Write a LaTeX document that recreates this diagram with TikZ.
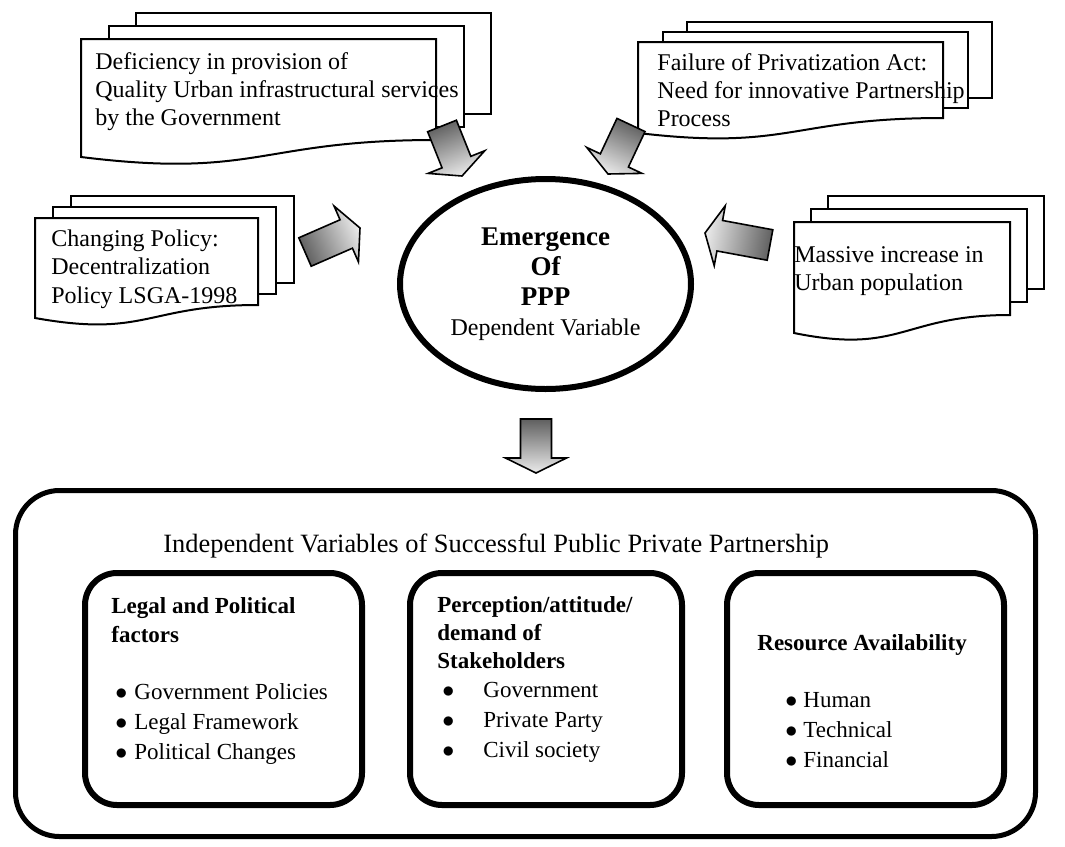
\documentclass[tikz,border=0pt]{standalone}
\usepackage{fontspec}
\setmainfont{Liberation Serif}
\usepackage{tikz}
\usetikzlibrary{calc,shapes,positioning}
\definecolor{arrdark}{RGB}{95,95,95}
\definecolor{arrlight}{RGB}{235,235,235}
\newcommand{\docStack}[8]{
    \foreach \sh in {2,1}
    {
        \draw[sheet] ({#1+\sh*#6},{#2-\sh*#7}) rectangle ({#3+\sh*#6},{#5-\sh*#7});
    }
    %% front sheet with wavy bottom
    \draw[sheet] (#1,#2) -- (#3,#2) -- (#3,#5)
        .. controls ({(#1+#3)/2},#5) and ({(#1+#3)/2},{#4+#8}) .. (#1,#4) -- cycle;
}
\newcommand{\blockArrow}[2]{
    \pgfmathanglebetweenpoints{\pgfpointanchor{#1}{center}}{\pgfpointanchor{#2}{center}}
    \pgfmathsetmacro{\arrAng}{\pgfmathresult-90}
    \coordinate (neck) at ($(#2)!7.5pt!(#1)$);
    \shade[blockarrow,shading angle=\arrAng]
        ($(#1)!7.75pt!90:(#2)$) -- ($(neck)!7.75pt!90:(#2)$)
        -- ($(neck)!15.25pt!90:(#2)$) -- (#2)
        -- ($(neck)!15.25pt!-90:(#2)$) -- ($(neck)!7.75pt!-90:(#2)$)
        -- ($(#1)!7.75pt!-90:(#2)$) -- cycle;
}
\newcommand{\bul}[1]{\makebox[#1][l]{$\bullet$}}
\newcommand{\bigb}[1]{{\fontsize{13.5pt}{15pt}\selectfont\bfseries #1}}

\begin{document}
\begin{tikzpicture}[x=0.5pt,y=-0.5pt]
    \tikzstyle{sheet}=[draw,fill=white,line width=1pt] %
    \tikzstyle{blockarrow}=[draw,line width=0.8pt,top color=arrlight,%
    bottom color=arrdark] %
    \tikzstyle{doctext}=[anchor=base west,align=left,inner sep=0pt,%
    font=\fontsize{12pt}{13.8pt}\selectfont] %
    \tikzstyle{ellnode}=[ellipse,draw,line width=3pt,minimum width=145.5pt,%
    minimum height=105pt,inner sep=0pt,align=center,%
    font=\fontsize{12pt}{15pt}\selectfont] %
    \tikzstyle{frame}=[rectangle,rounded corners=22pt,draw,line width=2.5pt] %
    \tikzstyle{factorbox}=[rectangle,rounded corners=16pt,draw,line width=3pt,%
    minimum width=138.5pt,minimum height=116pt] %
    \tikzstyle{boxhead}=[anchor=base west,align=left,inner sep=0pt,%
    font=\fontsize{11.5pt}{14.5pt}\selectfont\bfseries] %
    \tikzstyle{boxlist}=[anchor=base west,align=left,inner sep=0pt,%
    font=\fontsize{11.5pt}{15pt}\selectfont] %

    \useasboundingbox (0,0) rectangle (1065,846);

    %% Causes
    \docStack{81}{39}{436}{157}{140}{27.5}{13}{22}
    \docStack{638}{42}{943}{133}{118}{24.5}{10}{18}
    \docStack{35}{218}{258}{318}{305}{18}{11}{20}
    \docStack{794}{222}{1010}{333}{315}{17}{13}{22}

    %% (base anchor sits on the last line)
    \node[doctext] (DEF) at (95,125) {Deficiency in provision of\\%
      Quality Urban infrastructural services\\by the Government};
    \node[doctext] (FAIL) at (657,126) {Failure of Privatization Act:\\%
      Need for innovative Partnership\\Process};
    \node[doctext,font=\fontsize{12pt}{14.2pt}\selectfont] (POL) at (51,303)
      {Changing Policy:\\Decentralization\\Policy LSGA-1998};
    \node[doctext] (POP) at (794,290) {Massive increase in\\Urban population};

    %% Dependent variable
    \node[ellnode] (PPP) at (545.5,284) {\bigb{Emergence}\\\bigb{Of}\\%
      \bigb{PPP}\\Dependent Variable};

    \coordinate (DEFt) at (442,126);  \coordinate (DEFh) at (462,176);
    \coordinate (FAILt) at (631,125); \coordinate (FAILh) at (608,174);
    \coordinate (POLt) at (305,252);  \coordinate (POLh) at (360,228);
    \coordinate (POPt) at (770,245);  \coordinate (POPh) at (705,233);
    \coordinate (PPPt) at (536,419);  \coordinate (PPPh) at (536,473);
    \blockArrow{DEFt}{DEFh}
    \blockArrow{FAILt}{FAILh}
    \blockArrow{POLt}{POLh}
    \blockArrow{POPt}{POPh}
    \blockArrow{PPPt}{PPPh}

    %% Independent variables
    \node[frame,minimum width=510pt,minimum height=173pt] (IND) at (525.5,663.5) {};
    \node[doctext,font=\fontsize{13.2pt}{15pt}\selectfont] (TTL) at (163,552)
      {Independent Variables of Successful Public Private Partnership};

    \node[factorbox] (LEG) at (223.5,689) {};
    \node[factorbox,minimum width=136pt] (PER) at (546,689) {};
    \node[factorbox] (RES) at (865.5,689) {};

    \node[boxhead] (LEGh) at (111,642) {Legal and Political\\factors};
    \node[boxlist] (LEGl) at (115,759) {\bul{9.5pt}Government Policies\\%
      \bul{9.5pt}Legal Framework\\\bul{9.5pt}Political Changes};

    \node[boxhead,font=\fontsize{11.5pt}{13.8pt}\selectfont\bfseries] (PERh)
      at (437,668) {Perception/attitude/\\demand of\\Stakeholders};
    \node[boxlist] (PERl) at (442,757) {\bul{20.5pt}Government\\%
      \bul{20.5pt}Private Party\\\bul{20.5pt}Civil society};

    \node[boxhead] (RESh) at (757,650) {Resource Availability};
    \node[boxlist] (RESl) at (785,767) {\bul{9pt}Human\\\bul{9pt}Technical\\%
      \bul{9pt}Financial};
\end{tikzpicture}
\end{document}
